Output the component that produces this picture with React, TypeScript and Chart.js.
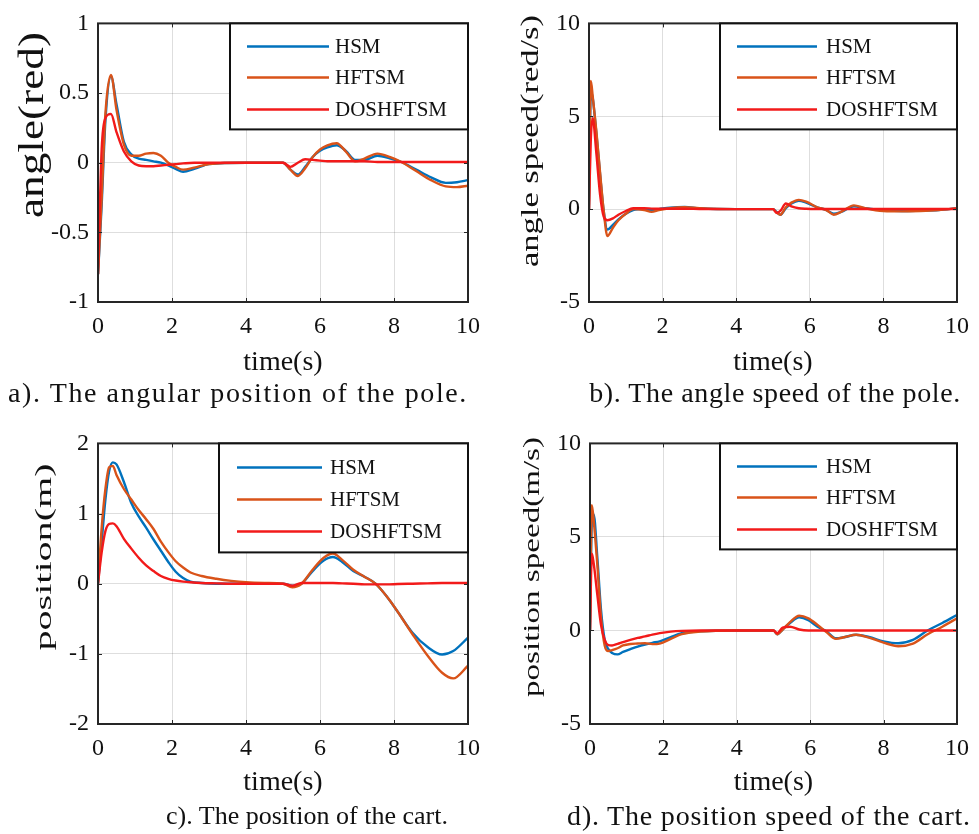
import React, { useEffect, useRef } from 'react';
import { Chart, registerables } from 'chart.js';

Chart.register(...registerables);

// ---------- data ----------
const seriesLabels = ['HSM', 'HFTSM', 'DOSHFTSM'];
const xTickStep = 2;

// a) angular position of the pole
const tA = [0, 0.1, 0.2, 0.35, 0.5, 0.7, 0.9, 1.1, 1.3, 1.5, 1.7, 1.9, 2.1, 2.3, 2.6, 3, 4, 5, 5.2, 5.4, 5.6, 5.8, 6, 6.2, 6.45, 6.7, 6.95, 7.2, 7.55, 7.9, 8.2, 8.6, 9, 9.4, 9.7, 10];
const hsmA = [-0.8, -0.3, 0.3, 0.62, 0.42, 0.15, 0.06, 0.03, 0.02, 0.01, 0, -0.02, -0.045, -0.065, -0.045, -0.01, 0, 0, -0.05, -0.085, -0.03, 0.04, 0.085, 0.11, 0.125, 0.085, 0.02, 0.02, 0.05, 0.03, 0.005, -0.05, -0.105, -0.145, -0.14, -0.125];
const hftsmA = [-0.8, -0.25, 0.35, 0.63, 0.38, 0.13, 0.05, 0.05, 0.065, 0.07, 0.05, 0, -0.03, -0.05, -0.035, -0.01, 0, 0, -0.05, -0.095, -0.04, 0.04, 0.095, 0.125, 0.14, 0.08, 0.01, 0.03, 0.065, 0.04, 0.005, -0.06, -0.125, -0.17, -0.175, -0.165];
const dosA = [-0.8, 0.1, 0.32, 0.35, 0.22, 0.08, 0.01, -0.02, -0.025, -0.025, -0.02, -0.015, -0.01, -0.005, 0, 0, 0, 0, -0.03, 0, 0.025, 0.02, 0.015, 0.01, 0.01, 0.01, 0.01, 0.01, 0.005, 0.005, 0.005, 0.005, 0.005, 0.005, 0.005, 0.005];

// b) angle speed of the pole
const tB = [0, 0.05, 0.1, 0.2, 0.3, 0.4, 0.5, 0.65, 0.8, 1.0, 1.2, 1.5, 1.7, 1.9, 2.2, 2.6, 3, 4, 5, 5.1, 5.2, 5.35, 5.5, 5.7, 5.9, 6.2, 6.45, 6.65, 6.85, 7.2, 7.5, 8, 8.5, 9, 9.5, 10];
const hsmB = [0, 6.3, 6.0, 4.1, 1.9, -0.1, -1.1, -0.85, -0.55, -0.25, -0.05, 0, -0.05, 0, 0.08, 0.12, 0.05, 0, 0, -0.15, -0.3, 0.05, 0.3, 0.45, 0.35, 0.1, -0.05, -0.25, -0.15, 0.15, 0.05, -0.05, -0.1, -0.08, -0.05, 0.05];
const hftsmB = [0, 6.9, 6.1, 4.2, 2.0, -0.1, -1.45, -1.0, -0.6, -0.25, 0, -0.05, -0.15, -0.05, 0.05, 0.1, 0.05, 0, 0, -0.2, -0.3, 0.1, 0.35, 0.5, 0.4, 0.1, -0.05, -0.3, -0.15, 0.2, 0.05, -0.1, -0.12, -0.1, -0.05, 0.05];
const dosB = [0, 3.8, 4.9, 3.0, 0.8, -0.4, -0.6, -0.5, -0.3, -0.1, 0.05, 0.05, 0.03, 0.02, 0.02, 0.02, 0.01, 0, 0, -0.2, -0.1, 0.3, 0.15, 0.05, 0.02, 0.01, 0.01, 0.01, 0.01, 0.01, 0.01, 0.01, 0.01, 0.01, 0.01, 0.01];

// c) position of the cart
const tC = [0, 0.1, 0.2, 0.3, 0.4, 0.5, 0.7, 0.9, 1.1, 1.3, 1.5, 1.7, 1.9, 2.1, 2.3, 2.5, 2.8, 3.2, 3.6, 4, 4.5, 5, 5.25, 5.5, 5.8, 6.1, 6.35, 6.6, 6.9, 7.2, 7.5, 7.8, 8.1, 8.5, 8.9, 9.3, 9.6, 10];
const hsmC = [0, 0.6, 1.2, 1.6, 1.73, 1.7, 1.45, 1.15, 0.96, 0.8, 0.63, 0.47, 0.31, 0.17, 0.08, 0.03, 0.01, 0, 0, 0, 0, 0, -0.03, 0, 0.18, 0.33, 0.38, 0.31, 0.18, 0.1, 0, -0.18, -0.4, -0.7, -0.9, -1.01, -0.96, -0.77];
const hftsmC = [0, 0.8, 1.35, 1.66, 1.68, 1.55, 1.35, 1.2, 1.05, 0.92, 0.78, 0.6, 0.45, 0.32, 0.23, 0.16, 0.11, 0.07, 0.04, 0.02, 0.01, 0, -0.05, 0, 0.2, 0.37, 0.43, 0.34, 0.2, 0.1, 0, -0.18, -0.4, -0.72, -1.02, -1.27, -1.35, -1.17];
const dosC = [0, 0.45, 0.75, 0.85, 0.86, 0.82, 0.64, 0.5, 0.37, 0.26, 0.18, 0.11, 0.07, 0.045, 0.03, 0.02, 0.01, 0.005, 0, 0, 0, 0, -0.03, 0.01, 0.01, 0.01, 0.01, 0.005, 0, -0.01, -0.01, -0.01, -0.005, 0, 0.005, 0.01, 0.01, 0.01];

// d) position speed of the cart
const tD = [0, 0.05, 0.1, 0.2, 0.3, 0.4, 0.5, 0.6, 0.75, 0.9, 1.1, 1.3, 1.5, 1.7, 1.9, 2.2, 2.5, 3, 4, 5, 5.1, 5.25, 5.45, 5.7, 5.95, 6.2, 6.45, 6.7, 6.95, 7.25, 7.6, 8, 8.4, 8.8, 9.2, 9.6, 10];
const hsmD = [0, 5.8, 6.2, 3.9, 1.1, -0.5, -1.0, -1.2, -1.28, -1.15, -1.0, -0.86, -0.75, -0.66, -0.58, -0.35, -0.15, -0.04, 0, 0, -0.2, 0.05, 0.4, 0.7, 0.55, 0.2, -0.05, -0.42, -0.35, -0.23, -0.35, -0.58, -0.68, -0.5, 0, 0.4, 0.83];
const hftsmD = [0, 6.7, 5.9, 3.5, 0.7, -0.8, -1.1, -1.05, -0.95, -0.8, -0.72, -0.7, -0.68, -0.73, -0.7, -0.45, -0.2, -0.06, 0, 0, -0.2, 0.05, 0.45, 0.79, 0.65, 0.3, -0.1, -0.45, -0.35, -0.23, -0.38, -0.65, -0.84, -0.7, -0.2, 0.2, 0.65];
const dosD = [0, 4.1, 3.6, 1.9, 0.3, -0.5, -0.78, -0.8, -0.72, -0.62, -0.5, -0.4, -0.32, -0.22, -0.14, -0.06, -0.02, 0, 0, 0, -0.15, 0.15, 0.2, 0.05, 0, 0, 0, 0, 0, 0, 0, 0, 0, 0, 0, 0, 0];

// ---------- styles ----------
const COLORS = ['#0072BD', '#D95319', '#F21A1A'];
const ORDERS = [2, 1, 0];
const FONT = "'Liberation Serif', 'Times New Roman', serif";
const TEXT = '#111111';
const GRID = 'rgba(0,0,0,0.13)';

type Legend = { w: number; h: number; lineX: number; lineLen: number; textX: number; rows: number[] };
type Panel = {
  left: number; top: number; width: number; height: number;
  padRight: number; yWidth: number; xHeight: number;
  yMin: number; yMax: number; yStep: number;
  t: number[]; series: number[][];
  yTitle: { text: string; x: number; y: number; len: number; size: number };
  legend: Legend;
  caption: { text: string; cx: number; cy: number; size: number; ls: number };
};

const panels: Panel[] = [
  {
    left: 0, top: 0, width: 490, height: 385, padRight: 19, yWidth: 98, xHeight: 83,
    yMin: -1, yMax: 1, yStep: 0.5, t: tA, series: [hsmA, hftsmA, dosA],
    yTitle: { text: 'angle(red)', x: 34, y: 125, len: 186, size: 36 },
    legend: { w: 238, h: 106, lineX: 17, lineLen: 82, textX: 105, rows: [23, 54, 86] },
    caption: { text: 'a). The angular position of the pole.', cx: 238, cy: 393, size: 28, ls: 1.6 },
  },
  {
    left: 490, top: 0, width: 489, height: 385, padRight: 16, yWidth: 99, xHeight: 83,
    yMin: -5, yMax: 10, yStep: 5, t: tB, series: [hsmB, hftsmB, dosB],
    yTitle: { text: 'angle speed(red/s)', x: 41, y: 141, len: 252, size: 25 },
    legend: { w: 237, h: 106, lineX: 17, lineLen: 80, textX: 106, rows: [23, 54, 86] },
    caption: { text: 'b). The angle speed of the pole.', cx: 775, cy: 393, size: 28, ls: 0.6 },
  },
  {
    left: 0, top: 420, width: 490, height: 385, padRight: 19, yWidth: 98, xHeight: 81,
    yMin: -2, yMax: 2, yStep: 1, t: tC, series: [hsmC, hftsmC, dosC],
    yTitle: { text: 'position(m)', x: 45, y: 137, len: 187, size: 24 },
    legend: { w: 249, h: 109, lineX: 18, lineLen: 85, textX: 111, rows: [24, 56, 88] },
    caption: { text: 'c). The position of the cart.', cx: 307, cy: 816, size: 26, ls: 0 },
  },
  {
    left: 490, top: 420, width: 489, height: 385, padRight: 16, yWidth: 100, xHeight: 81,
    yMin: -5, yMax: 10, yStep: 5, t: tD, series: [hsmD, hftsmD, dosD],
    yTitle: { text: 'position speed(m/s)', x: 43, y: 147, len: 260, size: 24 },
    legend: { w: 237, h: 106, lineX: 17, lineLen: 80, textX: 106, rows: [23, 54, 86] },
    caption: { text: 'd). The position speed of the cart.', cx: 769, cy: 816, size: 28, ls: 0.8 },
  },
];

function makeFramePlugin(p: Panel) {
  return {
    id: 'matlabFrame',
    afterDraw(chart: any) {
      const { ctx, chartArea, scales } = chart;
      const { left, top, right, bottom } = chartArea;
      ctx.save();
      // inner tick marks
      ctx.strokeStyle = '#262626';
      ctx.lineWidth = 1;
      const tl = 4;
      ctx.beginPath();
      scales.x.ticks.forEach((tk: any) => {
        const px = Math.round(scales.x.getPixelForValue(tk.value)) + 0.5;
        ctx.moveTo(px, bottom); ctx.lineTo(px, bottom - tl);
        ctx.moveTo(px, top); ctx.lineTo(px, top + tl);
      });
      scales.y.ticks.forEach((tk: any) => {
        const py = Math.round(scales.y.getPixelForValue(tk.value)) + 0.5;
        ctx.moveTo(left, py); ctx.lineTo(left + tl, py);
        ctx.moveTo(right, py); ctx.lineTo(right - tl, py);
      });
      ctx.stroke();
      // frame
      ctx.lineWidth = 2;
      ctx.strokeRect(left, top, right - left, bottom - top);
      // legend box
      const lg = p.legend;
      const bx = right - lg.w;
      const by = top;
      ctx.fillStyle = '#ffffff';
      ctx.fillRect(bx, by, lg.w, lg.h);
      ctx.strokeStyle = '#111';
      ctx.lineWidth = 2;
      ctx.strokeRect(bx, by, lg.w, lg.h);
      ctx.font = `21px ${FONT}`;
      ctx.textBaseline = 'middle';
      ctx.textAlign = 'left';
      chart.data.datasets.forEach((ds: any, i: number) => {
        const y = by + lg.rows[i];
        ctx.strokeStyle = ds.borderColor;
        ctx.lineWidth = 2.5;
        ctx.beginPath();
        ctx.moveTo(bx + lg.lineX, y);
        ctx.lineTo(bx + lg.lineX + lg.lineLen, y);
        ctx.stroke();
        ctx.fillStyle = TEXT;
        ctx.fillText(ds.label, bx + lg.textX, y + 1);
      });
      // y axis title
      const yt = p.yTitle;
      ctx.font = `${yt.size}px ${FONT}`;
      const w = ctx.measureText(yt.text).width;
      ctx.translate(yt.x, yt.y);
      ctx.rotate(-Math.PI / 2);
      ctx.scale(yt.len / w, 1);
      ctx.textAlign = 'center';
      ctx.textBaseline = 'middle';
      ctx.fillStyle = TEXT;
      ctx.fillText(yt.text, 0, 0);
      ctx.restore();
    },
  };
}

const fmt = (v: any) => String(Math.round(Number(v) * 100) / 100);

function PanelChart({ p }: { p: Panel }) {
  const ref = useRef<HTMLCanvasElement | null>(null);
  useEffect(() => {
    if (!ref.current) return;
    const datasets = p.series.map((vals, i) => ({
      label: seriesLabels[i],
      data: p.t.map((x, j) => ({ x, y: vals[j] })),
      borderColor: COLORS[i],
      backgroundColor: COLORS[i],
      borderWidth: 2.4,
      pointRadius: 0,
      fill: false,
      cubicInterpolationMode: 'monotone' as const,
      order: ORDERS[i],
    }));
    const chart = new Chart(ref.current, {
      type: 'line',
      data: { datasets },
      options: {
        responsive: false,
        animation: false,
        events: [],
        layout: { padding: { left: 0, top: 19, right: p.padRight, bottom: 0 } },
        plugins: { legend: { display: false }, tooltip: { enabled: false } },
        scales: {
          x: {
            type: 'linear',
            min: 0,
            max: 10,
            afterFit: (s: any) => { s.height = p.xHeight; },
            ticks: { stepSize: xTickStep, padding: 10, maxRotation: 0, color: TEXT, font: { family: FONT, size: 24 }, callback: fmt },
            grid: { color: GRID, drawTicks: false, lineWidth: 1 },
            border: { display: false },
            title: {
              display: true,
              text: 'time(s)',
              color: TEXT,
              font: { family: FONT, size: 28, lineHeight: 1 },
              padding: { top: 0, bottom: 8 },
            },
          },
          y: {
            type: 'linear',
            min: p.yMin,
            max: p.yMax,
            afterFit: (s: any) => { s.width = p.yWidth; },
            ticks: { stepSize: p.yStep, padding: 9, color: TEXT, font: { family: FONT, size: 24 }, callback: fmt },
            grid: { color: GRID, drawTicks: false, lineWidth: 1 },
            border: { display: false },
          },
        },
      },
      plugins: [makeFramePlugin(p)],
    } as any);
    return () => chart.destroy();
  }, [p]);
  return (
    <canvas
      ref={ref}
      width={p.width}
      height={p.height}
      style={{ position: 'absolute', left: p.left, top: p.top, width: p.width, height: p.height }}
    />
  );
}

export default function App() {
  return (
    <div style={{ position: 'fixed', left: 0, top: 0, width: 979, height: 834, background: '#fff', overflow: 'hidden' }}>
      {panels.map((p, i) => (
        <PanelChart key={i} p={p} />
      ))}
      {panels.map((p, i) => (
        <div
          key={'c' + i}
          style={{
            position: 'absolute',
            left: p.caption.cx - 300,
            width: 600,
            top: p.caption.cy - 16,
            height: 32,
            lineHeight: '32px',
            textAlign: 'center',
            fontFamily: FONT,
            fontSize: p.caption.size,
            letterSpacing: p.caption.ls + 'px',
            color: TEXT,
            whiteSpace: 'nowrap',
          }}
        >
          {p.caption.text}
        </div>
      ))}
    </div>
  );
}
